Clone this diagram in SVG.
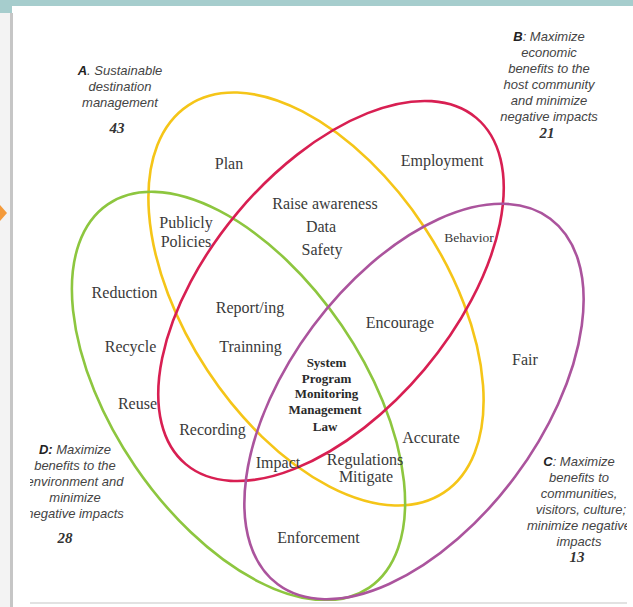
<svg xmlns="http://www.w3.org/2000/svg" width="633" height="607" viewBox="0 0 633 607">
<style>
.ell{fill:none;stroke-width:2.6}
.in{font-family:"Liberation Serif","Times New Roman",serif;font-size:16px;fill:#3a3a3a;text-anchor:middle}
.core{font-family:"Liberation Serif","Times New Roman",serif;font-size:13px;font-weight:bold;fill:#2a2a2a;text-anchor:middle}
.lab{font-family:"Liberation Sans",Arial,sans-serif;font-size:13px;font-style:italic;fill:#444;text-anchor:middle}
.num{font-family:"Liberation Serif","Times New Roman",serif;font-size:15px;font-style:italic;font-weight:bold;fill:#333;text-anchor:middle}
.b{font-weight:bold;fill:#222}
</style>
<defs>
<clipPath id="page"><rect x="30" y="6" width="597" height="595"/></clipPath>
</defs>
<rect width="633" height="607" fill="#ffffff"/>
<rect x="0" y="0" width="633" height="6" fill="#a6cdcd"/>
<rect x="0" y="0" width="12" height="13" fill="#a6cdcd"/>
<rect x="0" y="13" width="10" height="594" fill="#f3f3f3"/>
<rect x="10" y="13" width="3" height="594" fill="#c6c6c6"/>
<polygon points="0,205 7,213 0,221" fill="#f39a3b"/>
<rect x="30" y="602" width="597" height="2" fill="#e2e2e2"/>
<g clip-path="url(#page)">
<g id="set-a"><ellipse class="ell" stroke="#f5c518" cx="316" cy="299" rx="232" ry="130" transform="rotate(56.6 316 299)"/></g>
<g id="set-d"><ellipse class="ell" stroke="#8dc63f" cx="238.5" cy="396" rx="232" ry="125" transform="rotate(55.7 238.5 396)"/></g>
<g id="set-b"><ellipse class="ell" stroke="#d81f52" cx="331" cy="291" rx="226" ry="122" transform="rotate(-50 331 291)"/></g>
<g id="set-c"><ellipse class="ell" stroke="#ab549d" cx="414" cy="401.5" rx="228" ry="126" transform="rotate(-53.3 414 401.5)"/></g>
<g id="label-a" class="lab">
<text x="120" y="75"><tspan class="b">A</tspan>. Sustainable</text>
<text x="120" y="91">destination</text>
<text x="120" y="107">management</text>
<text class="num" x="117" y="133">43</text>
</g>
<g id="label-b" class="lab">
<text x="549" y="41"><tspan class="b">B</tspan>: Maximize</text>
<text x="549" y="57">economic</text>
<text x="549" y="73">benefits to the</text>
<text x="549" y="89">host community</text>
<text x="549" y="105">and minimize</text>
<text x="549" y="121">negative impacts</text>
<text class="num" x="547" y="138">21</text>
</g>
<g id="label-d" class="lab">
<text x="75" y="454"><tspan class="b">D:</tspan> Maximize</text>
<text x="75" y="470">benefits to the</text>
<text x="75" y="486">environment and</text>
<text x="75" y="502">minimize</text>
<text x="75" y="518">negative impacts</text>
<text class="num" x="65" y="543">28</text>
</g>
<g id="label-c" class="lab">
<text x="579" y="466"><tspan class="b">C</tspan>: Maximize</text>
<text x="579" y="482">benefits to</text>
<text x="579" y="498">communities,</text>
<text x="581" y="514">visitors, culture;</text>
<text x="579" y="530">minimize negative</text>
<text x="579" y="546">impacts</text>
<text class="num" x="577" y="562">13</text>
</g>
</g>
<g id="items" class="in">
<text x="229" y="169">Plan</text>
<text x="442" y="166">Employment</text>
<text x="325" y="209">Raise awareness</text>
<text x="321" y="232">Data</text>
<text x="322" y="255">Safety</text>
<text x="186" y="228">Publicly</text>
<text x="186" y="247">Policies</text>
<text x="469" y="242" style="font-size:13.5px">Behavior</text>
<text x="124.5" y="298">Reduction</text>
<text x="250" y="313">Report/ing</text>
<text x="400" y="328">Encourage</text>
<text x="130.5" y="352">Recycle</text>
<text x="250.5" y="352">Trainning</text>
<text x="525" y="365">Fair</text>
<text x="137.5" y="409">Reuse</text>
<text x="212.5" y="435">Recording</text>
<text x="431" y="443">Accurate</text>
<text x="278" y="468">Impact</text>
<text x="365" y="465">Regulations</text>
<text x="366" y="482">Mitigate</text>
<text x="318.5" y="543">Enforcement</text>
</g>
<g id="core" class="core">
<text x="326.5" y="367">System</text>
<text x="326.5" y="383">Program</text>
<text x="326.5" y="398">Monitoring</text>
<text x="325" y="414">Management</text>
<text x="325" y="431">Law</text>
</g>
</svg>
